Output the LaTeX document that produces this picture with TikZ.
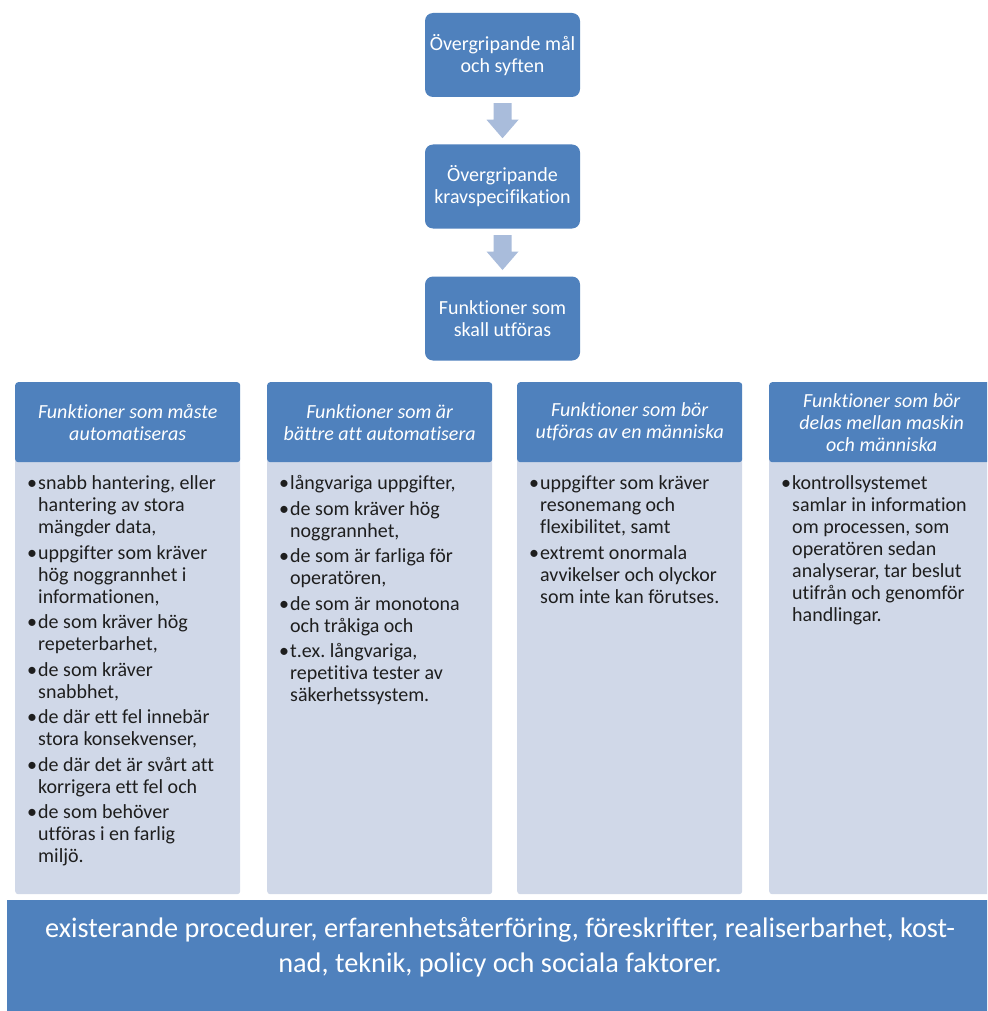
\documentclass[tikz,border=0pt]{standalone}
\usepackage{fontspec}
\setmainfont{Carlito}[Ligatures={NoCommon}]
\usetikzlibrary{calc}

\definecolor{hblue}{HTML}{4F81BD}
\definecolor{pale}{HTML}{D0D8E8}
\definecolor{arrowc}{HTML}{A9BCDB}
\definecolor{ink}{HTML}{1E1E1E}

\newcommand\bu{\makebox[11pt][l]{\textbullet}}

\tikzset{
  topbox/.style={rounded corners=8pt, fill=hblue, text=white,
    minimum width=155pt, minimum height=84pt, align=center, inner sep=2pt,
    font=\fontsize{20}{22}\selectfont},
  hdr/.style={rounded corners=3pt, fill=hblue, text=white,
    minimum width=225pt, minimum height=80pt, align=center, inner sep=2pt,
    anchor=north west, font=\fontsize{20}{22}\selectfont\itshape},
  colbody/.style={rounded corners=3pt, fill=pale, minimum width=225pt,
    minimum height=439pt, anchor=north west, inner sep=0pt},
  items/.style={anchor=north west, inner sep=0pt, text=ink,
    font=\fontsize{20}{22}\selectfont},
  band/.style={fill=hblue, anchor=north west, minimum width=990pt,
    minimum height=120pt, inner sep=0pt},
  bandtext/.style={text=white, align=center, inner sep=0pt,
    font=\fontsize{28.3}{35}\selectfont},
  downarrow/.pic={\fill[arrowc] (-9,-17.5) -- (9,-17.5) -- (9,-1) -- (16,-1)
    -- (0,17.5) -- (-16,-1) -- (-9,-1) -- cycle;}
}

\begin{document}
\frenchspacing
\begin{tikzpicture}[x=1pt, y=-1pt]
\useasboundingbox (0,0) rectangle (987,1011);
\clip (0,0) rectangle (987,1011);
\fill[white] (0,0) rectangle (987,1011);

% top chain
\node[topbox] (b1) at (502.5,55) {Övergripande mål\\och syften};
\node[topbox] (b2) at (502.5,186.5) {Övergripande\\kravspecifikation};
\node[topbox] (b3) at (502.5,318.5) {Funktioner som\\skall utföras};
\pic at ($(b1.south)!0.5!(b2.north)$) {downarrow};
\pic at ($(b2.south)!0.5!(b3.north)$) {downarrow};

% column bodies
\node[colbody] (c1) at (15,455) {};
\node[colbody] (c2) at (267,455) {};
\node[colbody] (c3) at (517,455) {};
\node[colbody] (c4) at (769,455) {};

% column headers
\node[hdr] (h1) at (15,382) {Funktioner som måste\\automatiseras};
\node[hdr] (h2) at (267,382) {Funktioner som är\\bättre att automatisera};
\node[hdr] (h3) at (517,382) {Funktioner som bör\\utföras av en människa};
\node[hdr] (h4) at (769,382) {Funktioner som bör\\delas mellan maskin\\och människa};

% bullet lists
\node[items] (t1) at (27,474) {\begin{tabular}{@{}l@{}l@{}}
\bu & snabb hantering, eller\\
    & hantering av stora\\
    & mängder data,\\[3.5pt]
\bu & uppgifter som kräver\\
    & hög noggrannhet i\\
    & informationen,\\[3.5pt]
\bu & de som kräver hög\\
    & repeterbarhet,\\[3.5pt]
\bu & de som kräver\\
    & snabbhet,\\[3.5pt]
\bu & de där ett fel innebär\\
    & stora konsekvenser,\\[3.5pt]
\bu & de där det är svårt att\\
    & korrigera ett fel och\\[3.5pt]
\bu & de som behöver\\
    & utföras i en farlig\\
    & miljö.
\end{tabular}};

\node[items] (t2) at (279,474) {\begin{tabular}{@{}l@{}l@{}}
\bu & långvariga uppgifter,\\[3.5pt]
\bu & de som kräver hög\\
    & noggrannhet,\\[3.5pt]
\bu & de som är farliga för\\
    & operatören,\\[3.5pt]
\bu & de som är monotona\\
    & och tråkiga och\\[3.5pt]
\bu & t.ex. långvariga,\\
    & repetitiva tester av\\
    & säkerhetssystem.
\end{tabular}};

\node[items] (t3) at (529,474) {\begin{tabular}{@{}l@{}l@{}}
\bu & uppgifter som kräver\\
    & resonemang och\\
    & flexibilitet, samt\\[3.5pt]
\bu & extremt onormala\\
    & avvikelser och olyckor\\
    & som inte kan förutses.
\end{tabular}};

\node[items] (t4) at (781,474) {\begin{tabular}{@{}l@{}l@{}}
\bu & kontrollsystemet\\
    & samlar in information\\
    & om processen, som\\
    & operatören sedan\\
    & analyserar, tar beslut\\
    & utifrån och genomför\\
    & handlingar.
\end{tabular}};

% base band
\node[band] (base) at (7,900) {};
\node[bandtext] (basetext) at (500,947) {existerande procedurer, erfarenhetsåterföring, föreskrifter, realiserbarhet, kost-\\nad, teknik, policy och sociala faktorer.};
\end{tikzpicture}
\end{document}
